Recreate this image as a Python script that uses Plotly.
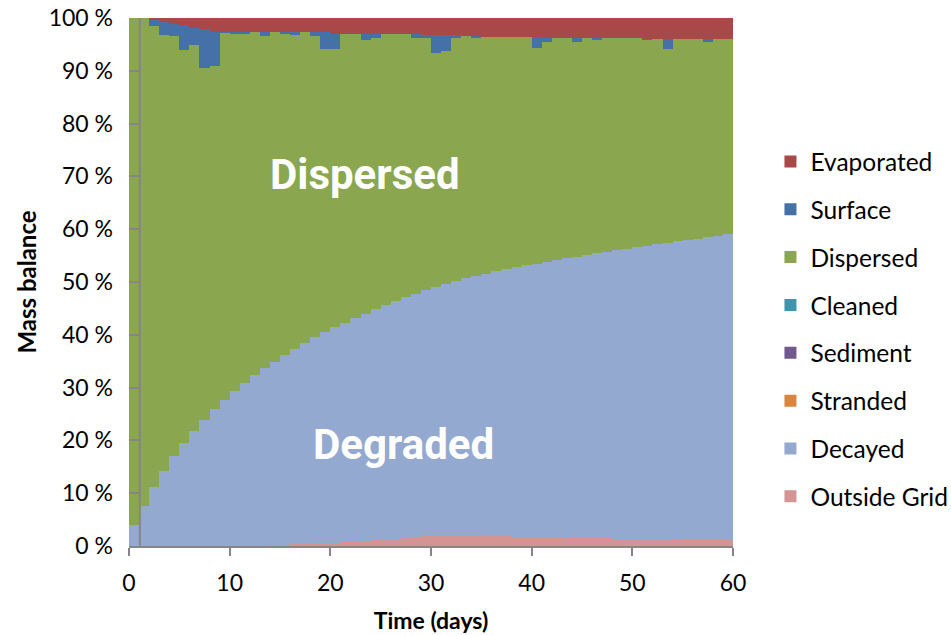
import plotly.graph_objects as go

days = list(range(60))

outside_grid = [0]*13 + [0.05, 0.1, 0.2, 0.3, 0.4, 0.5, 0.55, 0.65, 0.75, 0.85, 0.95, 1.1, 1.25, 1.4, 1.6, 1.8,
                2.05, 2.1, 2.1, 2.1, 2.05, 2.0, 1.95, 1.9, 1.85, 1.8, 1.75, 1.7, 1.67, 1.63, 1.6, 1.56, 1.52,
                1.48, 1.44, 1.4, 1.36, 1.32, 1.3, 1.27, 1.24, 1.21, 1.18, 1.15, 1.12, 1.1, 1.08]

# total degraded (outside grid + decayed) read from the blue/green boundary
degraded_top = [4.0, 7.6, 11.1, 14.3, 17.0, 19.6, 21.8, 23.9, 25.9, 27.7, 29.3, 30.8, 32.4, 33.7, 34.9, 36.2,
                37.4, 38.4, 39.5, 40.5, 41.4, 42.3, 43.2, 44.0, 44.8, 45.6, 46.4, 47.1, 47.8, 48.5, 49.1, 49.7,
                50.2, 50.7, 51.2, 51.6, 52.0, 52.4, 52.8, 53.2, 53.5, 53.8, 54.1, 54.5, 54.8, 55.1, 55.4, 55.7,
                56.0, 56.3, 56.6, 56.9, 57.2, 57.4, 57.7, 57.9, 58.2, 58.5, 58.8, 59.1]

surface = [0, 0, 1.3, 2.4, 2.4, 4.7, 3.3, 7.4, 6.5, 0.1, 0.2, 0.2, 0, 0.8, 0, 0.2, 0.5, 0, 0.8, 3.2,
           2.9, 0, 0, 1.1, 0.7, 0, 0, 0, 0.6, 0.6, 3.5, 3.0, 0.5, 0, 0.1, 0, 0, 0, 0, 0,
           2.1, 0.8, 0, 0, 0.8, 0, 0.4, 0, 0, 0, 0, 0.2, 0, 1.9, 0, 0, 0, 0.45, 0, 0]

evaporated = [0, 0, 0.3, 0.75, 1.1, 1.4, 1.8, 2.1, 2.6, 2.7, 2.7, 2.7, 2.7, 2.7, 2.7, 2.7, 2.7, 2.7, 2.7, 2.7,
              3.0, 3.0, 3.1, 3.1, 3.1, 3.1, 3.1, 3.1, 3.1, 3.2, 3.2, 3.2, 3.3, 3.4, 3.5, 3.6, 3.6, 3.6, 3.6, 3.6,
              3.6, 3.7, 3.7, 3.7, 3.7, 3.7, 3.8, 3.8, 3.8, 3.8, 3.8, 3.9, 3.9, 3.9, 3.9, 3.9, 4.0, 4.0, 4.0, 4.0]

cleaned = [0]*60
sediment = [0]*60
stranded = [0]*60

decayed = [round(t - o, 3) for t, o in zip(degraded_top, outside_grid)]
dispersed = [round(100 - t - s - e, 3) for t, s, e in zip(degraded_top, surface, evaporated)]

# stacking order bottom -> top; legend rank top -> bottom
series = [
    ("Outside Grid", outside_grid, "#D39493", 8),
    ("Decayed", decayed, "#94A9D0", 7),
    ("Stranded", stranded, "#DB843D", 6),
    ("Sediment", sediment, "#71588F", 5),
    ("Cleaned", cleaned, "#3D96AE", 4),
    ("Dispersed", dispersed, "#8AA64F", 3),
    ("Surface", surface, "#4670A8", 2),
    ("Evaporated", evaporated, "#A94848", 1),
]

FONT = "Lato"
fig = go.Figure()
for name, vals, col, rank in series:
    fig.add_trace(go.Bar(x=days, y=vals, name=name, width=1, offset=0,
                         marker=dict(color=col, line=dict(width=0)),
                         legendgroup=name, legendrank=rank))

fig.update_layout(
    width=951, height=635,
    margin=dict(l=129, r=218, t=18, b=89, autoexpand=False),
    barmode="stack", bargap=0,
    plot_bgcolor="white", paper_bgcolor="white",
    font=dict(family=FONT, size=23, color="black"),
    showlegend=True,
    legend=dict(traceorder="grouped", tracegroupgap=13,
                x=1.062, xanchor="left", y=0.411, yanchor="middle",
                font=dict(family=FONT, size=24.5), itemsizing="constant",
                bgcolor="rgba(0,0,0,0)"),
    xaxis=dict(range=[0, 60], dtick=10, tick0=0, showgrid=False, zeroline=False,
               showline=True, linecolor="#868686", linewidth=2,
               ticks="outside", ticklen=8, tickwidth=2, tickcolor="#868686",
               ticklabelstandoff=7,
               tickfont=dict(size=23),
               title=dict(text="<b>Time (days)</b>", font=dict(size=23), standoff=18)),
    yaxis=dict(range=[0, 100], dtick=10, tick0=0, showgrid=False, zeroline=False,
               showline=False, ticksuffix=" %",
               ticks="inside", ticklen=11, tickwidth=2, tickcolor="#868686",
               ticklabelstandoff=15,
               tickfont=dict(size=23),
               title=dict(text="<b>Mass balance</b>", font=dict(size=24), standoff=5)),
)

fig.add_shape(type="line", x0=1.08, x1=1.08, y0=0, y1=100, xref="x", yref="y",
              line=dict(color="#868686", width=2), layer="above")

fig.add_annotation(x=23.4, y=70.3, xref="x", yref="y", text="<b>Dispersed</b>", showarrow=False,
                   font=dict(family="Roboto", size=42, color="white"))
fig.add_annotation(x=27.3, y=19.3, xref="x", yref="y", text="<b>Degraded</b>", showarrow=False,
                   font=dict(family="Roboto", size=42, color="white"))

fig.write_html("out.html", config={"displayModeBar": False})

# remove the browser's default page margin so the figure sits at the window's top-left
with open("out.html", encoding="utf-8") as f:
    html = f.read()
html = html.replace("<head>", "<head><style>html,body{margin:0;padding:0;overflow:hidden;}</style>", 1)
with open("out.html", "w", encoding="utf-8") as f:
    f.write(html)
